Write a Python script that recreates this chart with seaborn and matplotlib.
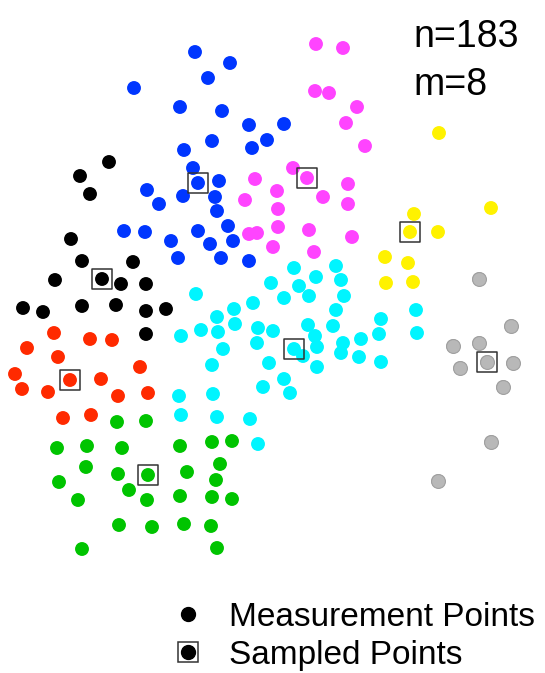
import matplotlib
matplotlib.use("Agg")
import matplotlib.pyplot as plt
from matplotlib.lines import Line2D
import seaborn as sns
import pandas as pd

# point positions (x to the right, y downward)
blue_x = [195, 230, 208, 134, 180, 222, 249, 284, 212, 267, 184, 252, 193, 198, 219,
          147, 183, 215, 159, 217, 228, 145, 124, 198, 171, 210, 233, 178, 221, 249]
blue_y = [52, 63, 78, 88, 107, 111, 125, 124, 141, 140, 150, 148, 168, 183, 181,
          190, 196, 197, 204, 211, 226, 232, 231, 231, 241, 244, 241, 258, 258, 261]

magenta_x = [316, 343, 315, 329, 357, 346, 365, 293, 307, 255, 348, 277, 323, 245,
             348, 278, 278, 249, 257, 309, 352, 273, 314]
magenta_y = [44, 48, 91, 93, 107, 123, 146, 168, 178, 179, 184, 191, 197, 200,
             204, 209, 227, 234, 233, 230, 237, 247, 252]

black_x = [109, 80, 90, 71, 82, 133, 55, 102, 121, 146, 23, 43, 82, 116, 146, 166, 146]
black_y = [162, 176, 194, 239, 261, 262, 280, 279, 284, 284, 308, 312, 306, 305, 311, 309, 334]

red_x = [54, 90, 112, 27, 58, 140, 15, 70, 101, 22, 48, 118, 148, 63, 91]
red_y = [333, 339, 340, 348, 357, 367, 374, 380, 379, 389, 392, 396, 393, 418, 415]

green_x = [117, 146, 57, 87, 122, 180, 212, 232, 86, 220, 118, 148, 187, 216, 59,
           129, 78, 147, 180, 212, 232, 119, 152, 184, 211, 82, 217]
green_y = [422, 421, 448, 446, 448, 446, 442, 441, 467, 464, 474, 475, 472, 480, 482,
           490, 500, 500, 496, 497, 499, 525, 527, 524, 526, 549, 548]

cyan_x = [294, 316, 336, 271, 299, 341, 284, 309, 344, 196, 253, 234, 336, 416, 217,
          181, 201, 218, 235, 258, 273, 308, 333, 381, 257, 294, 303, 315, 317, 343,
          361, 379, 417, 341, 359, 381, 223, 212, 269, 317, 284, 263, 290, 179, 213,
          181, 217, 250, 258]
cyan_y = [268, 277, 266, 283, 286, 280, 298, 296, 296, 294, 303, 309, 310, 310, 317,
          336, 330, 332, 324, 328, 331, 325, 326, 319, 343, 349, 356, 336, 347, 343,
          339, 334, 333, 353, 357, 362, 349, 365, 363, 367, 379, 387, 393, 396, 394,
          415, 417, 419, 444]

yellow_x = [439, 491, 414, 410, 438, 385, 408, 386, 413]
yellow_y = [133, 208, 214, 232, 232, 257, 263, 283, 282]

gray_x = [479, 511, 453, 479, 487, 513, 460, 503, 491, 438]
gray_y = [279, 326, 346, 343, 362, 363, 368, 387, 442, 481]

# one sampled point per cluster
sampled_x = [198, 307, 102, 70, 148, 294, 410, 487]
sampled_y = [183, 178, 279, 380, 475, 349, 232, 362]

n_points = 183
m_sampled = 8

groups = {
    "black": (black_x, black_y, "#000000"),
    "red": (red_x, red_y, "#FF2A00"),
    "green": (green_x, green_y, "#00C400"),
    "blue": (blue_x, blue_y, "#0036FF"),
    "cyan": (cyan_x, cyan_y, "#00F5FF"),
    "magenta": (magenta_x, magenta_y, "#FF44FF"),
    "yellow": (yellow_x, yellow_y, "#FFF200"),
    "gray": (gray_x, gray_y, "#B8B8B8"),
}

rows = []
for name, (xs, ys, _) in groups.items():
    for x, y in zip(xs, ys):
        rows.append({"x": x, "y": y, "cluster": name})
df = pd.DataFrame(rows)
palette = {k: v[2] for k, v in groups.items()}

sampled = pd.DataFrame({"x": sampled_x, "y": sampled_y})

plt.rcParams["font.family"] = ["Liberation Sans", "DejaVu Sans"]
fig = plt.figure(figsize=(5.45, 6.73), dpi=100)
ax = fig.add_axes([0, 0, 1, 1])

sns.scatterplot(data=df, x="x", y="y", hue="cluster", palette=palette, s=100,
                linewidth=0, legend=False, ax=ax, zorder=2)
# gray points carry a slightly darker rim
gray_df = df[df["cluster"] == "gray"]
sns.scatterplot(data=gray_df, x="x", y="y", color="#B8B8B8", s=100, edgecolor="#A0A0A0",
                linewidth=0.8, legend=False, ax=ax, zorder=3)
ax.scatter(sampled["x"], sampled["y"], marker="s", s=205, facecolors="none",
           edgecolors="#333333", linewidths=1.1, zorder=4)

ax.set_xlim(0, 545)
ax.set_ylim(673, 0)
ax.axis("off")

ax.text(413, 47, "n=" + str(n_points), fontsize=27, ha="left", va="baseline")
ax.text(413, 95, "m=" + str(m_sampled), fontsize=27, ha="left", va="baseline")

h_meas = Line2D([], [], marker="o", color="black", linestyle="none", markersize=10)
h_box = Line2D([], [], marker="s", markerfacecolor="none", markeredgecolor="#333333",
               linestyle="none", markersize=14, markeredgewidth=1.1)
fig.legend([h_meas, (h_box, h_meas)], ["Measurement Points", "Sampled Points"],
           loc="lower left", bbox_to_anchor=(0.272, -0.031), frameon=False, fontsize=24,
           handlelength=1.0, handletextpad=0.73, labelspacing=0.2, borderpad=0.2)

fig.savefig("out.png", dpi=100)
